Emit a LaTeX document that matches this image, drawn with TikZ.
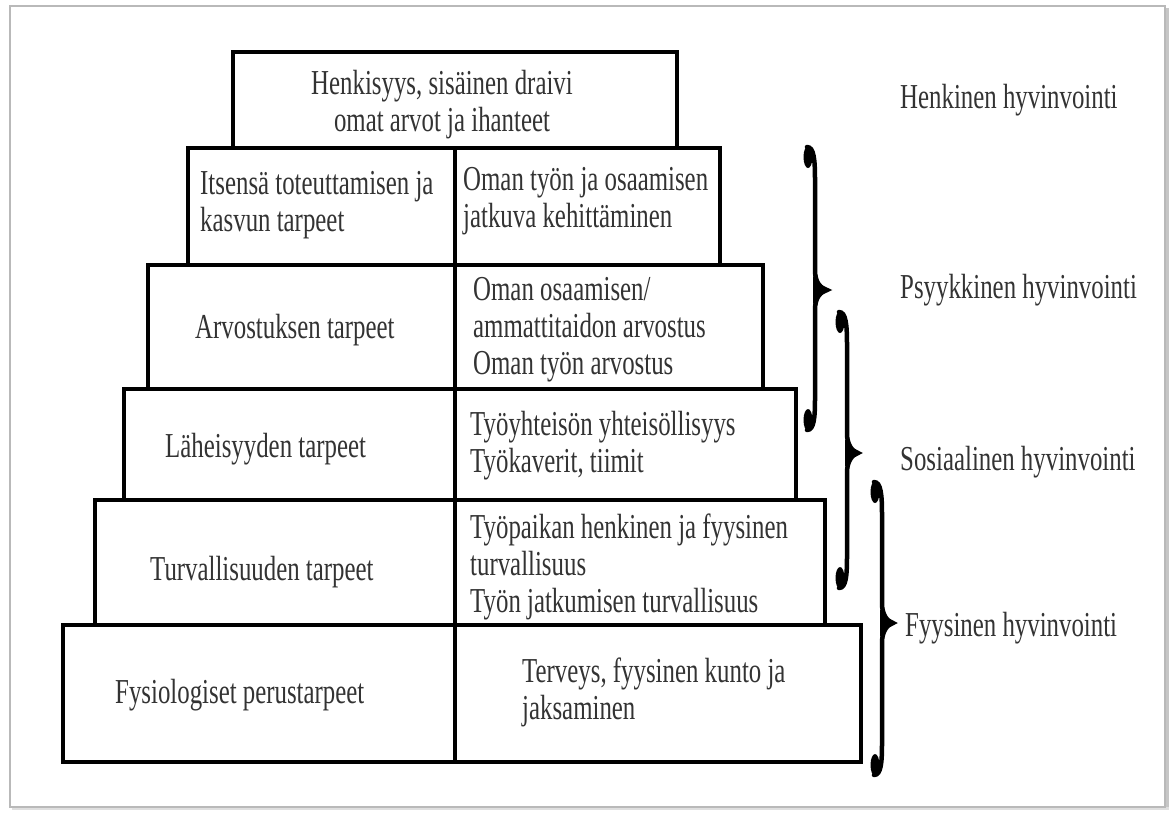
\documentclass[tikz,border=0pt]{standalone}
\usepackage{fontspec}
\setmainfont{Liberation Serif}[FakeStretch=0.71]
\begin{document}
\begin{tikzpicture}[x=1pt,y=-1pt,
  box/.style={draw=black,line width=4.5pt,fill=white,rectangle,inner sep=0pt,outer sep=0pt},
  txt/.style={inner sep=0pt,text=black!80,font=\fontsize{35}{37}\selectfont,anchor=west,align=left},
  ctxt/.style={inner sep=0pt,text=black!80,font=\fontsize{35}{37}\selectfont,align=center},
  bracestyle/.style={line width=4.5pt,line cap=round,draw=black},
  blob/.style={fill=black}]
\useasboundingbox (0,0) rectangle (1170,812);
% frame with shadow
\fill[gray!45] (1165,8) rectangle (1169,810);
\fill[gray!25] (12,807) rectangle (1169,810);
\draw[gray!55,line width=1.2pt,fill=white] (10,6) rectangle (1165,807);

% pyramid boxes
\node[box,minimum width=532pt,minimum height=117pt] (r2) at (454,206.5) {};
\node[box,minimum width=615pt,minimum height=124pt] (r3) at (455.5,327) {};
\node[box,minimum width=672pt,minimum height=111pt] (r4) at (460,444.5) {};
\node[box,minimum width=730pt,minimum height=125pt] (r5) at (460,562.5) {};
\node[box,minimum width=798pt,minimum height=137pt] (r6) at (462,693.5) {};
\node[box,minimum width=444pt,minimum height=96pt] (t) at (455,100) {};
\coordinate (divtop) at (455,148);
\coordinate (divbot) at (455,762);
\draw[line width=4.5pt] (divtop) -- (divbot);

% texts
\node[ctxt] (tt) at (442,105) {Henkisyys, sisäinen draivi\\omat arvot ja ihanteet};
\node[txt] (l2) at (200,205) {Itsensä toteuttamisen ja\\kasvun tarpeet};
\node[txt] (p2) at (463,201) {Oman työn ja osaamisen\\jatkuva kehittäminen};
\node[txt] (l3) at (195,330) {Arvostuksen tarpeet};
\node[txt] (p3) at (473,330) {Oman osaamisen/\\ammattitaidon arvostus\\Oman työn arvostus};
\node[txt] (l4) at (165,449) {Läheisyyden tarpeet};
\node[txt] (p4) at (470,446) {Työyhteisön yhteisöllisyys\\Työkaverit, tiimit};
\node[txt] (l5) at (150,572) {Turvallisuuden tarpeet};
\node[txt] (p5) at (470,567) {Työpaikan henkinen ja fyysinen\\turvallisuus\\Työn jatkumisen turvallisuus};
\node[txt] (l6) at (115,695) {Fysiologiset perustarpeet};
\node[txt] (p6) at (522,692) {Terveys, fyysinen kunto ja\\jaksaminen};

% right labels
\node[txt] (h1) at (900,100) {Henkinen hyvinvointi};
\node[txt] (h2) at (900,290) {Psyykkinen hyvinvointi};
\node[txt] (h3) at (900,462) {Sosiaalinen hyvinvointi};
\node[txt] (h4) at (905,628) {Fyysinen hyvinvointi};

% braces
% brace 1
\draw[bracestyle] (807,147) .. controls (814,147) and (815,160) .. (815,180) -- (815,270)
  .. controls (815,282) and (820,288) .. (827,290)
  .. controls (820,292) and (815,298) .. (815,310) -- (815,398)
  .. controls (815,418) and (814,430) .. (807,430);
\fill[blob] (808,157) ellipse (4.5 and 11);
\fill[blob] (808,420) ellipse (4.5 and 11);
\fill[blob] (813,276) -- (823,286) -- (829,290) -- (823,294) -- (813,304) -- cycle;
% brace 2
\draw[bracestyle] (839,312) .. controls (846,312) and (847,325) .. (847,345) -- (847,433)
  .. controls (847,445) and (852,451) .. (858,453)
  .. controls (852,455) and (847,461) .. (847,473) -- (847,556)
  .. controls (847,576) and (846,588) .. (839,588);
\fill[blob] (840,322) ellipse (4.5 and 11);
\fill[blob] (840,578) ellipse (4.5 and 11);
\fill[blob] (845,439) -- (854,449) -- (860,453) -- (854,457) -- (845,467) -- cycle;
% brace 3
\draw[bracestyle] (874,482) .. controls (881,482) and (882,495) .. (882,515) -- (882,603)
  .. controls (882,615) and (887,621) .. (893,623)
  .. controls (887,625) and (882,631) .. (882,643) -- (882,743)
  .. controls (882,763) and (881,775) .. (874,775);
\fill[blob] (875,492) ellipse (4.5 and 11);
\fill[blob] (875,765) ellipse (4.5 and 11);
\fill[blob] (880,609) -- (889,619) -- (895,623) -- (889,627) -- (880,637) -- cycle;
\end{tikzpicture}
\end{document}
